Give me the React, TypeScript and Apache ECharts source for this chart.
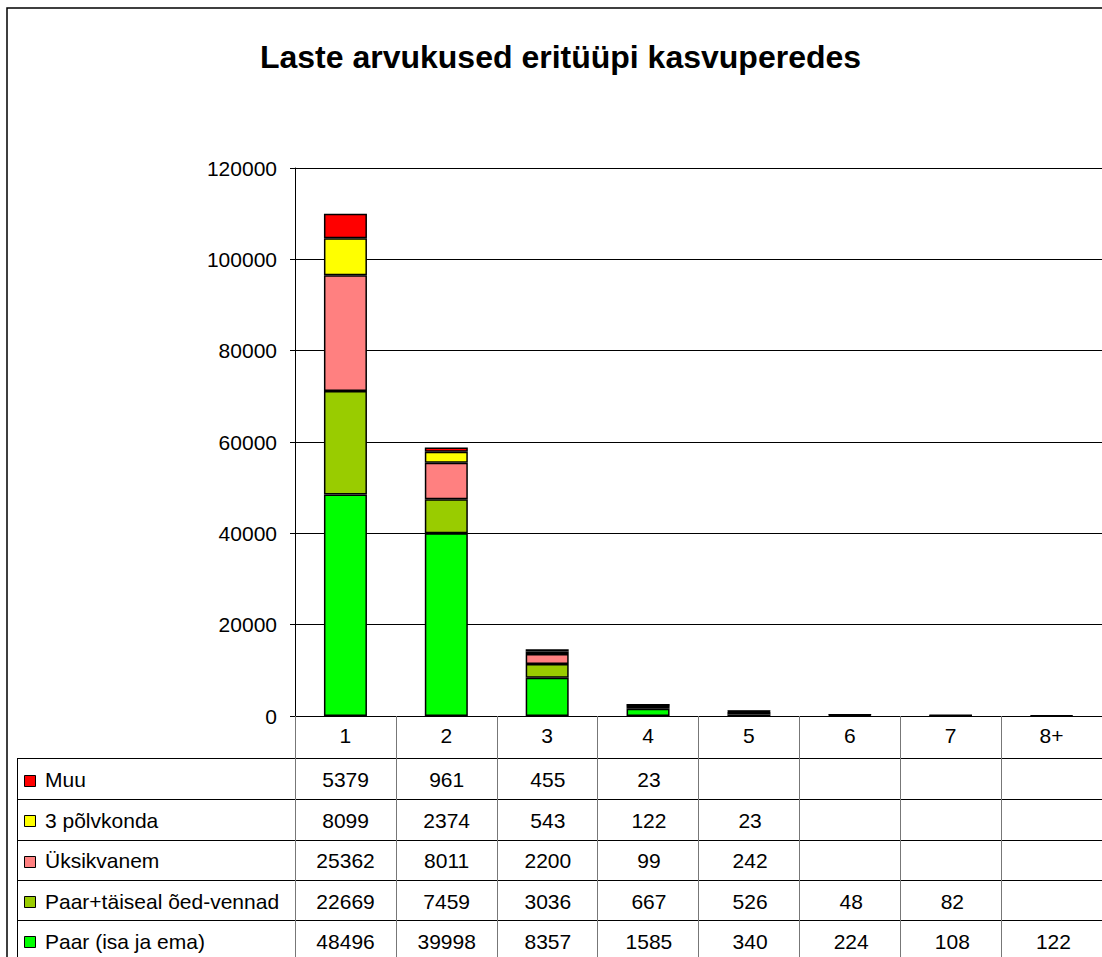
import React, { useEffect, useRef } from "react";
import * as echarts from "echarts";

const titleText = "Laste arvukused eritüüpi kasvuperedes";
const categories = ["1", "2", "3", "4", "5", "6", "7", "8+"];
const paar = [48496, 39998, 8357, 1585, 340, 224, 108, 122];
const paarTaiseal = [22669, 7459, 3036, 667, 526, 48, 82, null];
const uksikvanem = [25362, 8011, 2200, 99, 242, null, null, null];
const kolmPolvkonda = [8099, 2374, 543, 122, 23, null, null, null];
const muu = [5379, 961, 455, 23, null, null, null, null];
const yMin = 0;
const yMax = 120000;
const yInterval = 20000;

// stack order bottom -> top
const seriesList = [
  { name: "Paar (isa ja ema)", data: paar, color: "#00FF00" },
  { name: "Paar+täiseal õed-vennad", data: paarTaiseal, color: "#99CC00" },
  { name: "Üksikvanem", data: uksikvanem, color: "#FF8080" },
  { name: "3 põlvkonda", data: kolmPolvkonda, color: "#FFFF00" },
  { name: "Muu", data: muu, color: "#FF0000" },
];

const FONT = "'Liberation Sans', Arial, sans-serif";

export default function App() {
  const ref = useRef<HTMLDivElement>(null);

  useEffect(() => {
    if (!ref.current) return;
    const chart = echarts.init(ref.current, null, { renderer: "svg" });

    const gridLeft = 295;
    const gridTop = 168;
    const gridWidth = 809;
    const gridHeight = 548;
    const colW = gridWidth / categories.length;
    const tableLeft = 17;
    const tableRight = 1120;
    const rowLines = [758, 799, 839.5, 880, 920, 960.5];

    const graphics: any[] = [];
    // outer frame
    graphics.push({
      type: "rect",
      shape: { x: 7, y: 8, width: 2000, height: 2000 },
      style: { fill: "none", stroke: "#000", lineWidth: 1.5 },
      silent: true,
    });
    // title
    graphics.push({
      type: "text",
      x: 560.5,
      y: 57,
      style: {
        text: titleText,
        fontFamily: FONT,
        fontSize: 32,
        fontWeight: "bold",
        fill: "#000",
        align: "center",
        verticalAlign: "middle",
      },
    });
    // table horizontal lines
    rowLines.forEach((y) => {
      graphics.push({
        type: "line",
        shape: { x1: tableLeft, y1: Math.round(y) + 0.5, x2: tableRight, y2: Math.round(y) + 0.5 },
        style: { stroke: "#000", lineWidth: 1 },
        silent: true,
      });
    });
    // table left border
    graphics.push({
      type: "line",
      shape: { x1: tableLeft + 0.5, y1: rowLines[0], x2: tableLeft + 0.5, y2: 970 },
      style: { stroke: "#000", lineWidth: 1 },
      silent: true,
    });
    // table rows (top row = top of stack)
    const tableRows = [...seriesList].reverse();
    tableRows.forEach((s, r) => {
      const cy = (rowLines[r] + rowLines[r + 1]) / 2 + 1;
      graphics.push({
        type: "rect",
        shape: { x: 24.5, y: Math.round(cy - 5) + 0.5, width: 11, height: 11 },
        style: { fill: s.color, stroke: "#000", lineWidth: 1 },
        silent: true,
      });
      graphics.push({
        type: "text",
        x: 45,
        y: cy,
        style: {
          text: s.name,
          fontFamily: FONT,
          fontSize: 21,
          fill: "#000",
          align: "left",
          verticalAlign: "middle",
        },
      });
      s.data.forEach((v, i) => {
        if (v === null || v === undefined) return;
        graphics.push({
          type: "text",
          x: gridLeft + colW * (i + 0.5),
          y: cy,
          style: {
            text: String(v),
            fontFamily: FONT,
            fontSize: 21,
            fill: "#000",
            align: "center",
            verticalAlign: "middle",
          },
        });
      });
    });

    chart.setOption({
      animation: false,
      backgroundColor: "#fff",
      grid: { left: gridLeft, top: gridTop, width: gridWidth, height: gridHeight, containLabel: false },
      xAxis: {
        type: "category",
        data: categories,
        boundaryGap: true,
        axisLine: { show: true, lineStyle: { color: "#000", width: 1 } },
        axisTick: { show: true, length: 244, alignWithLabel: false, lineStyle: { color: "#777", width: 1 } },
        axisLabel: { fontFamily: FONT, fontSize: 21, color: "#000", margin: 9, interval: 0 },
        splitLine: { show: false },
      },
      yAxis: {
        type: "value",
        min: yMin,
        max: yMax,
        interval: yInterval,
        axisLine: { show: true, lineStyle: { color: "#000", width: 1 } },
        axisTick: { show: true, length: 5, lineStyle: { color: "#000", width: 1 } },
        axisLabel: {
          fontFamily: FONT,
          fontSize: 21,
          color: "#000",
          margin: 18,
          formatter: (v: number) => String(v),
        },
        splitLine: { show: true, lineStyle: { color: "#000", width: 1 } },
      },
      series: seriesList.map((s) => ({
        type: "bar",
        name: s.name,
        stack: "total",
        data: s.data,
        barWidth: 43,
        itemStyle: { color: s.color, borderColor: "#000", borderWidth: 1.5 },
        emphasis: { disabled: true },
      })),
      graphic: graphics,
    });

    return () => chart.dispose();
  }, []);

  return (
    <div
      ref={ref}
      style={{ position: "absolute", left: 0, top: 0, width: 1102, height: 957, overflow: "hidden" }}
    />
  );
}
